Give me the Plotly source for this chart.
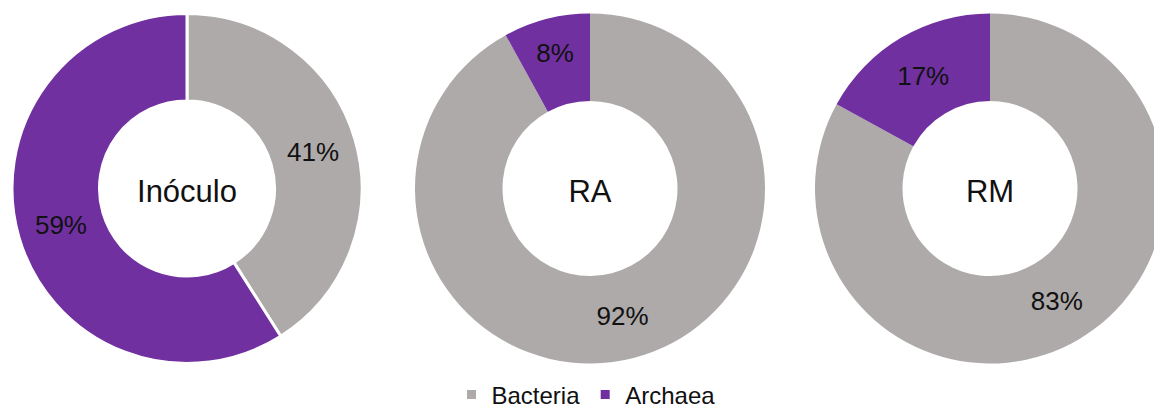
import plotly.graph_objects as go

# Community composition per sample (percent of reads)
groups = ["Bacteria", "Archaea"]
samples = ["Inóculo", "RA", "RM"]
bacteria = [41, 92, 83]
archaea = [59, 8, 17]

colors = {"Bacteria": "#AEAAAA", "Archaea": "#7030A0"}
font_family = "Arial, 'Liberation Sans', sans-serif"

W, H = 1170, 409
centers_px = [187, 590, 990]   # horizontal centres of the three rings
radius_px = 175
cy_px = 188.5

fig = go.Figure()

for i, name in enumerate(samples):
    vals = [bacteria[i], archaea[i]]
    cx = centers_px[i]
    fig.add_trace(go.Pie(
        labels=groups,
        values=vals,
        text=[f"{v}%" for v in vals],
        textinfo="text",
        textposition="inside",
        insidetextorientation="horizontal",
        textfont=dict(family=font_family, size=26, color="#111111"),
        hole=0.5,
        sort=False,
        direction="clockwise",
        rotation=0,
        marker=dict(colors=[colors[g] for g in groups],
                    line=dict(color="white", width=3 if i == 0 else 0)),
        title=dict(text=name, position="middle center",
                   font=dict(family=font_family, size=31, color="#111111")),
        domain=dict(x=[(cx - radius_px) / W, (cx + radius_px) / W],
                    y=[(H - cy_px - radius_px) / H, (H - cy_px + radius_px) / H]),
        showlegend=False,
        hoverinfo="skip",
    ))

# Legend entries drawn as small square markers
for g in groups:
    fig.add_trace(go.Scatter(
        x=[None], y=[None], mode="markers", name=g,
        marker=dict(symbol="square", size=9, color=colors[g]),
        showlegend=True, hoverinfo="skip",
    ))

fig.update_layout(
    width=W, height=H,
    margin=dict(l=0, r=0, t=0, b=0, autoexpand=False),
    paper_bgcolor="white", plot_bgcolor="white",
    xaxis=dict(visible=False), yaxis=dict(visible=False),
    legend=dict(orientation="h", x=586 / W, xanchor="center",
                y=(H - 395) / H, yanchor="middle",
                font=dict(family=font_family, size=24, color="#111111"),
                itemwidth=30, bgcolor="rgba(0,0,0,0)"),
)

fig.write_html(
    "out.html",
    post_script="document.documentElement.style.overflow='hidden';"
                "document.body.style.overflow='hidden';document.body.style.margin='0';",
)
